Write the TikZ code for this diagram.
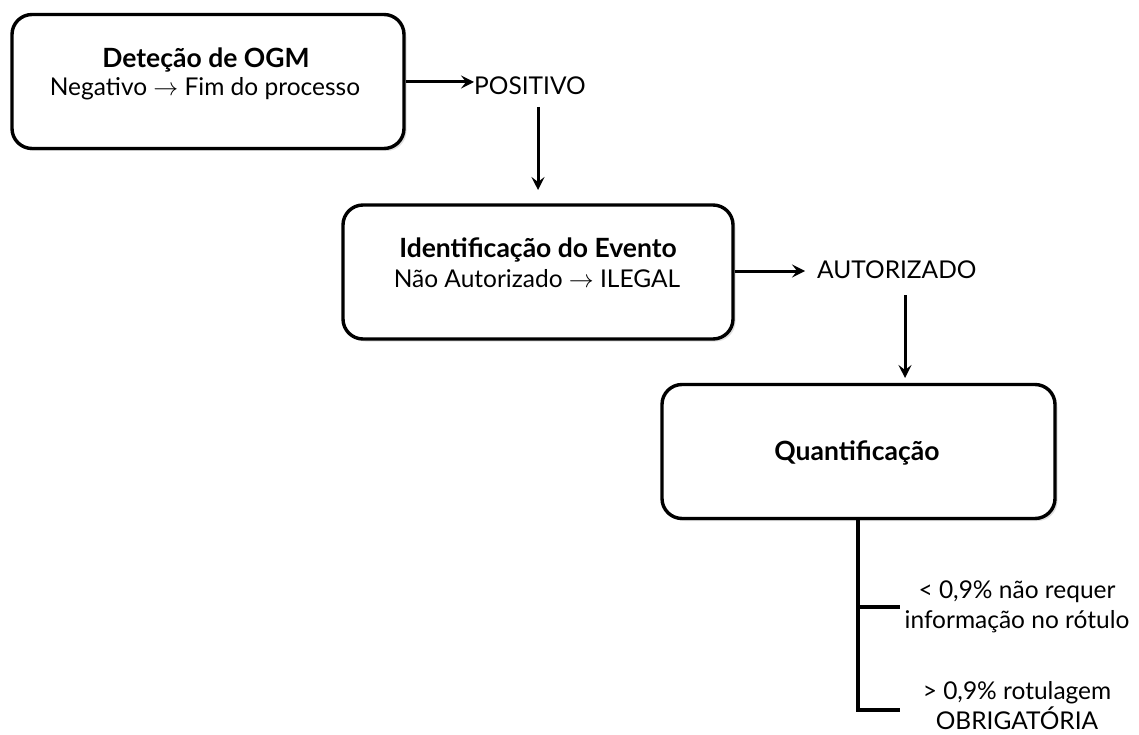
\documentclass[tikz,border=0pt]{standalone}
\usepackage{fontspec}
\setmainfont{Lato}
\usetikzlibrary{arrows.meta,shadows}
\begin{document}
\begin{tikzpicture}[x=1pt,y=-1pt,
  box/.style={draw=black, line width=3.4pt, rounded corners=20pt, fill=white,
    minimum width=#1, minimum height=134pt, inner sep=0pt,
    drop shadow={opacity=0.25, shadow xshift=2.5pt, shadow yshift=-2.5pt}},
  txt/.style={font=\fontsize{24.5}{28}\selectfont, inner sep=0pt, align=center},
  bold/.style={font=\fontsize{26.5}{30}\selectfont\bfseries},
  arr/.style={line width=3pt, -{Stealth[length=13pt,width=13pt,inset=5pt]}},
  ln/.style={line width=3.2pt}]
\useasboundingbox (0,0) rectangle (1139,735);
% boxes
\node[box=392pt] (b1) at (208,81.5) {};
\node[box=390pt] (b2) at (538,272) {};
\node[box=393pt] (b3) at (858.5,451.5) {};
% box texts
\node[txt, bold] (t1a) at (206,60) {Deteção de OGM};
\node[txt] (t1b) at (205,89) {Negativo $\rightarrow$ Fim do processo};
\node[txt, bold] (t2a) at (538,250) {Identificação do Evento};
\node[txt] (t2b) at (537,279) {Não Autorizado $\rightarrow$ ILEGAL};
\node[txt, bold] (t3) at (857,453) {Quantificação};
% outcomes
\node[txt, anchor=west] (pos) at (474,86) {POSITIVO};
\node[txt, anchor=west] (aut) at (817,270) {AUTORIZADO};
\node[txt] (lt1) at (1017,592) {< 0,9\% não requer};
\node[txt] (lt2) at (1017,622) {informação no rótulo};
\node[txt] (gt1) at (1017,693) {> 0,9\% rotulagem};
\node[txt] (gt2) at (1017,718) {OBRIGATÓRIA};
% connectors
\coordinate (d1s) at (538,107);
\coordinate (d1e) at (538,190);
\coordinate (d2s) at (905,295);
\coordinate (d2e) at (905,378);
\coordinate (br1) at (900,607);
\coordinate (br2) at (900,710);
\draw[arr] (b1.east |- 0,82) -- (pos.west |- 0,82);
\draw[arr] (d1s) -- (d1e);
\draw[arr] (b2.east |- 0,271) -- (805,271);
\draw[arr] (d2s) -- (d2e);
\draw[ln] (b3.south -| 858,0) -- (858,710) -- (br2);
\draw[ln] (858,607) -- (br1);
\end{tikzpicture}
\end{document}
